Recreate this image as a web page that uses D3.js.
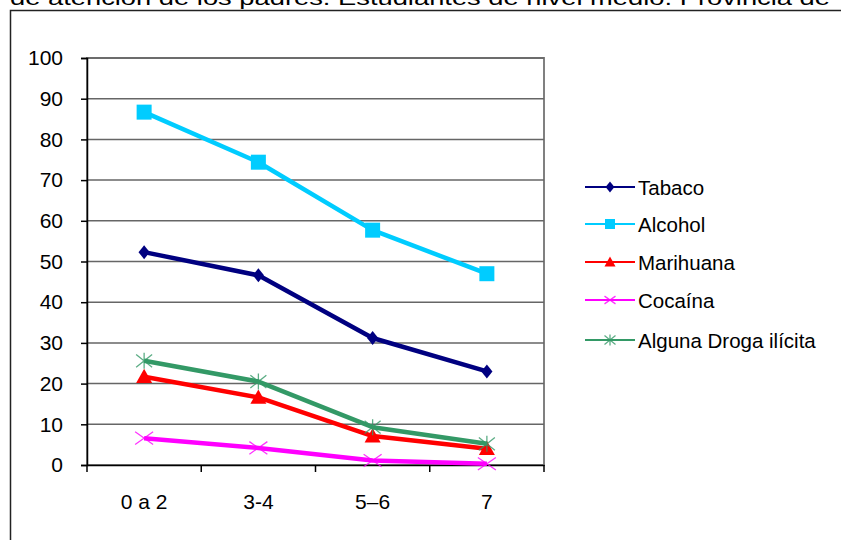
<!DOCTYPE html>
<html><head><meta charset="utf-8">
<script src="https://cdn.jsdelivr.net/npm/d3@7"></script>
<style>body{margin:0;background:#fff}svg{display:block}text{font-family:Arial,"Liberation Sans",sans-serif}</style>
</head><body>
<script>
const categories = ["0 a 2", "3-4", "5\u20136", "7"];
const seriesNames = ["Tabaco", "Alcohol", "Marihuana", "Cocaína", "Alguna Droga ilícita"];
const tabaco = [52.3, 46.6, 31.2, 23.0];
const alcohol = [86.7, 74.4, 57.7, 47.0];
const marihuana = [21.7, 16.6, 7.1, 4.0];
const cocaina = [6.6, 4.2, 1.1, 0.3];
const alguna = [25.6, 20.5, 9.3, 5.2];
const yTicks = [0, 10, 20, 30, 40, 50, 60, 70, 80, 90, 100];
const titleText = "de atención de los padres. Estudiantes de nivel medio. Provincia de";

const series = [
  {name: seriesNames[0], values: tabaco, color: "#000080", marker: "diamond"},
  {name: seriesNames[1], values: alcohol, color: "#00ccff", marker: "square"},
  {name: seriesNames[2], values: marihuana, color: "#ff0000", marker: "triangle"},
  {name: seriesNames[3], values: cocaina, color: "#ff00ff", marker: "x"},
  {name: seriesNames[4], values: alguna, color: "#339966", marker: "star"}
];

const W = 841, H = 540;
const FONT = "Arial, 'Liberation Sans', sans-serif";
const svg = d3.select("body").append("svg").attr("width", W).attr("height", H);

svg.append("text").attr("x", 10).attr("y", 5).attr("font-size", 20.5)
  .attr("textLength", 820).attr("lengthAdjust", "spacingAndGlyphs").text(titleText);

svg.append("rect").attr("x", 10.5).attr("y", 10.5).attr("width", 850).attr("height", 560)
  .attr("fill", "#fff").attr("stroke", "#222").attr("stroke-width", 1.5);

const pL = 87, pR = 544, pT = 58, pB = 465;
const x = d3.scaleBand().domain(categories).range([pL, pR]);
const y = d3.scaleLinear().domain([0, 100]).range([pB, pT]);

svg.append("rect").attr("x", pL).attr("y", pT).attr("width", pR - pL).attr("height", pB - pT)
  .attr("fill", "none").attr("stroke", "#808080").attr("stroke-width", 2);

svg.append("g").selectAll("line").data(yTicks.filter(d => d > 0)).join("line")
  .attr("x1", pL).attr("x2", pR).attr("y1", d => y(d)).attr("y2", d => y(d))
  .attr("stroke", "#666").attr("stroke-width", 1.5);

const yAxis = svg.append("g").attr("transform", `translate(${pL},0)`)
  .call(d3.axisLeft(y).tickValues(yTicks).tickSize(6).tickPadding(18));
yAxis.select(".domain").attr("stroke", "#000").attr("stroke-width", 1.5);
yAxis.selectAll(".tick line").attr("stroke", "#000").attr("stroke-width", 1.5);
yAxis.selectAll("text").attr("font-size", 21).attr("fill", "#000").attr("font-family", FONT);

const xAxis = svg.append("g").attr("transform", `translate(0,${pB})`)
  .call(d3.axisBottom(x).tickSize(0).tickPadding(29));
xAxis.select(".domain").attr("stroke", "#000").attr("stroke-width", 1.5);
xAxis.selectAll("text").attr("font-size", 21).attr("fill", "#000").attr("font-family", FONT);
const bounds = categories.map(c => x(c)).concat([x(categories[categories.length - 1]) + x.bandwidth()]);
svg.append("g").selectAll("line").data(bounds).join("line")
  .attr("x1", d => d).attr("x2", d => d).attr("y1", pB).attr("y2", pB + 7)
  .attr("stroke", "#000").attr("stroke-width", 1.5);

const cx = c => x(c) + x.bandwidth() / 2;
const line = d3.line().x((d, i) => cx(categories[i])).y(d => y(d));

function drawMarker(g, type, color, px, py, s) {
  if (type === "diamond") {
    g.append("path").attr("d", `M${px},${py - s}L${px + s * 0.8},${py}L${px},${py + s}L${px - s * 0.8},${py}Z`).attr("fill", color);
  } else if (type === "square") {
    g.append("rect").attr("x", px - s).attr("y", py - s).attr("width", 2 * s).attr("height", 2 * s).attr("fill", color);
  } else if (type === "triangle") {
    g.append("path").attr("d", `M${px},${py - s}L${px + s},${py + s * 0.8}L${px - s},${py + s * 0.8}Z`).attr("fill", color);
  } else if (type === "x") {
    g.append("path").attr("d", `M${px - s},${py - s * 0.7}L${px + s},${py + s * 0.7}M${px - s},${py + s * 0.7}L${px + s},${py - s * 0.7}`)
      .attr("stroke", color).attr("stroke-width", 1.3).attr("fill", "none").attr("opacity", 0.8);
  } else if (type === "star") {
    g.append("path").attr("d", `M${px - s},${py - s * 0.8}L${px + s},${py + s * 0.8}M${px - s},${py + s * 0.8}L${px + s},${py - s * 0.8}M${px},${py - s}L${px},${py + s}`)
      .attr("stroke", color).attr("stroke-width", 1.3).attr("fill", "none").attr("opacity", 0.8);
  }
}
const markerSize = {diamond: 7, square: 7.5, triangle: 8, x: 9, star: 8};

series.forEach(s => {
  const g = svg.append("g");
  g.append("path").datum(s.values).attr("d", line).attr("fill", "none")
    .attr("stroke", s.color).attr("stroke-width", 4.5).attr("stroke-linejoin", "round");
  s.values.forEach((v, i) => drawMarker(g, s.marker, s.color, cx(categories[i]), y(v), markerSize[s.marker]));
});

const legendY = [187, 224, 262, 300, 340];
series.forEach((s, i) => {
  const g = svg.append("g");
  const ly = legendY[i];
  g.append("line").attr("x1", 585).attr("x2", 635).attr("y1", ly).attr("y2", ly).attr("stroke", s.color).attr("stroke-width", 2);
  drawMarker(g, s.marker, s.color, 610, ly, s.marker === "square" ? 5 : 5.5);
  g.append("text").attr("x", 638).attr("y", ly + 8).attr("font-size", 20.5).attr("fill", "#000").attr("font-family", FONT).text(s.name);
});
</script>
</body></html>
